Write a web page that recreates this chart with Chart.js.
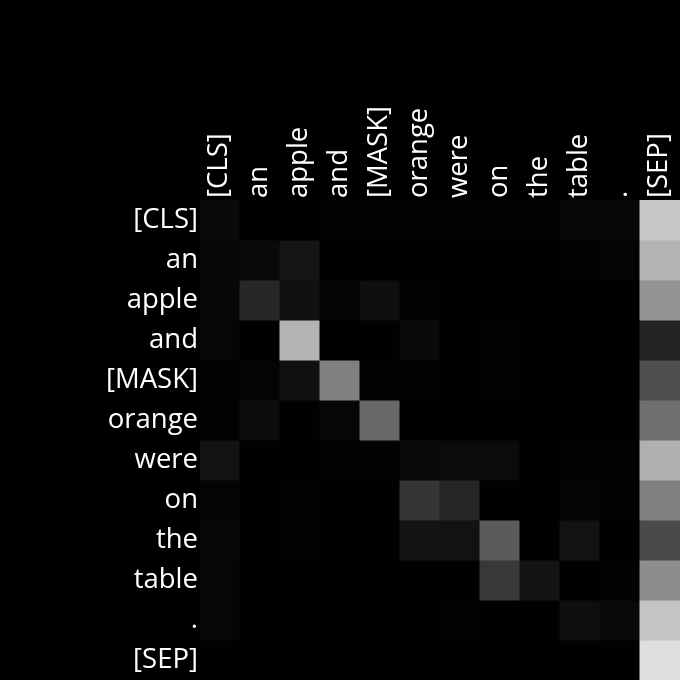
<!DOCTYPE html>
<html>
<head>
<meta charset="utf-8">
<script src="https://cdn.jsdelivr.net/npm/chart.js@4/dist/chart.umd.min.js"></script>
<style>
  html, body { margin: 0; padding: 0; background: #000; }
  #wrap { width: 680px; height: 680px; }
</style>
</head>
<body>
<div id="wrap"><canvas id="attn"></canvas></div>
<script>
const tokens = ['[CLS]', 'an', 'apple', 'and', '[MASK]', 'orange', 'were', 'on', 'the', 'table', '.', '[SEP]']

// attention weights, one array per query token (row)
const rowCLS = [0.039, 0, 0, 0.008, 0.008, 0.008, 0.012, 0.012, 0.012, 0.024, 0.031, 0.78]
const rowAn = [0.031, 0.035, 0.082, 0.004, 0.004, 0.004, 0.004, 0.004, 0.004, 0.008, 0.016, 0.706]
const rowApple = [0.031, 0.153, 0.067, 0.02, 0.055, 0.008, 0.004, 0.004, 0.004, 0.004, 0.004, 0.576]
const rowAnd = [0.024, 0.004, 0.702, 0.004, 0.004, 0.039, 0.004, 0.008, 0.004, 0.004, 0.004, 0.141]
const rowMask = [0.012, 0.016, 0.063, 0.502, 0.008, 0.012, 0.004, 0.008, 0.004, 0.004, 0.004, 0.31]
const rowOrange = [0.008, 0.047, 0.004, 0.027, 0.408, 0.004, 0.004, 0.004, 0.004, 0.004, 0.004, 0.435]
const rowWere = [0.071, 0.004, 0.004, 0.012, 0.008, 0.039, 0.043, 0.043, 0.004, 0.012, 0.008, 0.69]
const rowOn = [0.02, 0.004, 0.008, 0.004, 0.004, 0.208, 0.145, 0.004, 0.004, 0.02, 0.008, 0.502]
const rowThe = [0.027, 0.004, 0.008, 0.004, 0.004, 0.078, 0.071, 0.357, 0.004, 0.071, 0.004, 0.29]
const rowTable = [0.024, 0.004, 0.004, 0.004, 0.004, 0.004, 0.004, 0.22, 0.078, 0.004, 0.008, 0.553]
const rowDot = [0.024, 0.004, 0.004, 0.004, 0.004, 0.004, 0.008, 0.004, 0.004, 0.055, 0.035, 0.769]
const rowSEP = [0.004, 0.004, 0.004, 0.004, 0.004, 0.004, 0.004, 0.004, 0.004, 0.004, 0.004, 0.875]

const rows = [rowCLS, rowAn, rowApple, rowAnd, rowMask, rowOrange, rowWere, rowOn, rowThe, rowTable, rowDot, rowSEP]

function gray(w) {
        const g = Math.round(Math.max(0, Math.min(1, w)) * 255)
        return `rgb(${g},${g},${g})`
}

// each row is one stacked band of unit height, cells coloured by weight
const datasets = rows.map((row, i) => ({
        label: tokens[i],
        data: row.map(() => 1),
        backgroundColor: row.map(gray),
        borderWidth: 0,
        inflateAmount: 0.5,
        barPercentage: 1,
        categoryPercentage: 1
}))

const labelFont = { family: '"Open Sans", "Noto Sans", sans-serif', size: 27.5 }

const ctx = document.getElementById('attn').getContext('2d')

new Chart(ctx, {
        type: 'bar',
        data: { labels: tokens, datasets },
        options: {
                responsive: true,
                maintainAspectRatio: false,
                animation: false,
                layout: { padding: 0 },
                plugins: {
                        legend: { display: false },
                        tooltip: { enabled: false }
                },
                scales: {
                        x: {
                                position: 'top',
                                stacked: true,
                                grid: { display: false, drawTicks: false },
                                border: { display: false },
                                ticks: {
                                        color: '#fff',
                                        font: labelFont,
                                        minRotation: 90,
                                        maxRotation: 90,
                                        padding: 2,
                                        labelOffset: 32,
                                        autoSkip: false
                                },
                                afterFit: scale => {
                                        scale.height = 200
                                        scale.paddingLeft = 0
                                        scale.paddingRight = 0
                                }
                        },
                        y: {
                                type: 'linear',
                                stacked: true,
                                reverse: true,
                                min: 0,
                                max: 12,
                                grid: { display: false, drawTicks: false },
                                border: { display: false },
                                afterBuildTicks: scale => {
                                        scale.ticks = tokens.map((t, i) => ({ value: i + 0.5 }))
                                },
                                ticks: {
                                        color: '#fff',
                                        font: labelFont,
                                        padding: 2,
                                        autoSkip: false,
                                        callback: v => tokens[Math.floor(v)]
                                },
                                afterFit: scale => {
                                        scale.width = 200
                                        scale.paddingTop = 0
                                        scale.paddingBottom = 0
                                }
                        }
                }
        }
})
</script>
</body>
</html>
